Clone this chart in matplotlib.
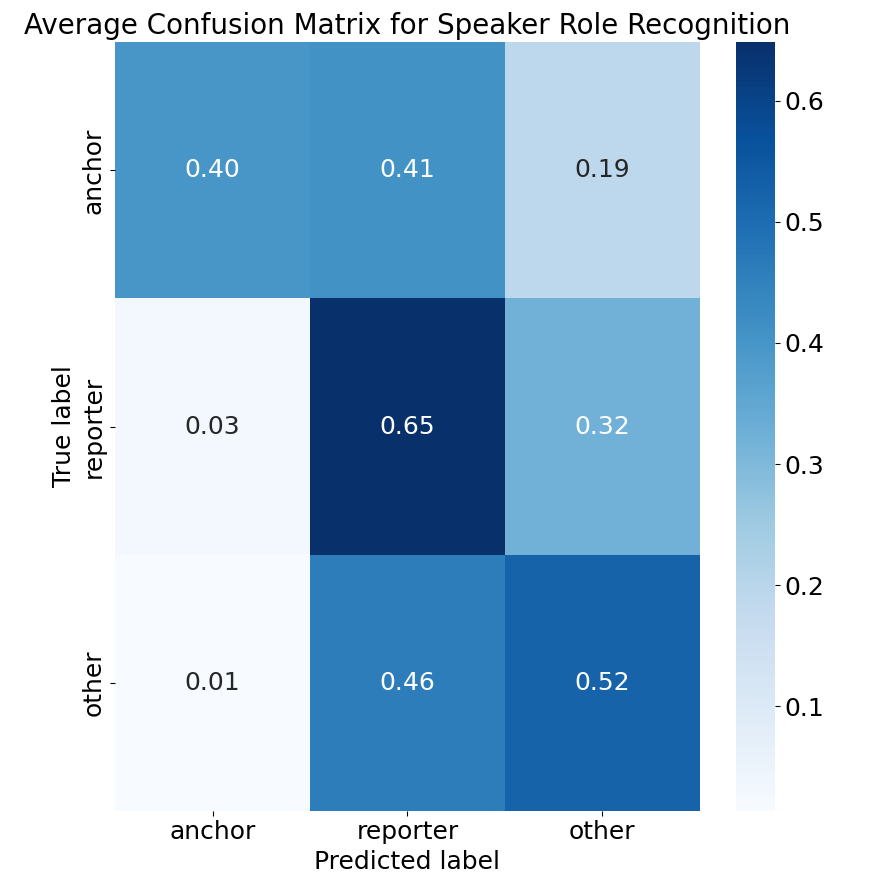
import matplotlib
matplotlib.use("Agg")
import matplotlib.pyplot as plt
import seaborn as sns
import numpy as np

labels = ["anchor", "reporter", "other"]
row_anchor = [0.400, 0.410, 0.190]
row_reporter = [0.030, 0.648, 0.322]
row_other = [0.014, 0.462, 0.524]

cm = np.array([row_anchor, row_reporter, row_other])

plt.rcParams['font.size'] = 18
fig, ax = plt.subplots(figsize=(8.72, 8.84), dpi=100)
sns.heatmap(cm, annot=True, fmt=".2f", cmap="Blues",
            xticklabels=labels, yticklabels=labels, ax=ax,
            annot_kws={"size": 18})
ax.set_title("Average Confusion Matrix for Speaker Role Recognition", fontsize=20)
ax.set_xlabel("Predicted label", fontsize=18)
ax.set_ylabel("True label", fontsize=18)
ax.tick_params(labelsize=18)
ax.collections[0].colorbar.ax.tick_params(labelsize=18)
plt.subplots_adjust(left=0.132, right=0.97, top=0.952, bottom=0.083)
plt.savefig("out.png")
